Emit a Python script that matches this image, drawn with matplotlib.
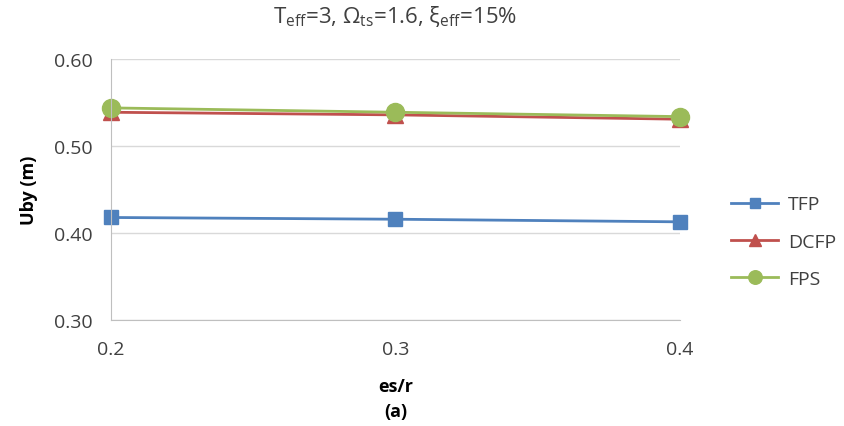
import matplotlib.pyplot as plt

# values
es_r = [0.2, 0.3, 0.4]
tfp = [0.418, 0.416, 0.413]
dcfp = [0.539, 0.536, 0.531]
fps = [0.544, 0.539, 0.534]

plt.rcParams['font.family'] = ['Open Sans', 'DejaVu Sans']
plt.rcParams['mathtext.fontset'] = 'custom'
plt.rcParams['mathtext.rm'] = 'Open Sans'

fig = plt.figure(figsize=(8.44, 4.27), dpi=100)
ax = fig.add_axes([0.1315, 0.248, 0.674, 0.611])

grey = '#BFBFBF'
ax.plot(es_r, tfp, color='#4F81BD', marker='s', markersize=10, lw=2, label='TFP')
ax.plot(es_r, dcfp, color='#C0504D', marker='^', markersize=11, lw=2, label='DCFP')
ax.plot(es_r, fps, color='#9BBB59', marker='o', markersize=13, lw=2, label='FPS')
for ln in ax.lines:
    ln.set_clip_on(False)

ax.set_xlim(0.2, 0.4)
ax.set_ylim(0.30, 0.60)
ax.set_xticks(es_r)
ax.set_xticklabels(['0.2', '0.3', '0.4'])
ax.set_yticks([0.30, 0.40, 0.50, 0.60])
ax.set_yticklabels(['0.30', '0.40', '0.50', '0.60'])
ax.yaxis.grid(True, color='#D9D9D9', lw=1)
ax.set_axisbelow(True)
for s in ['top', 'right']:
    ax.spines[s].set_visible(False)
for s in ['left', 'bottom']:
    ax.spines[s].set_color(grey)
ax.tick_params(axis='y', length=0, labelsize=14, colors='#404040', pad=13)
ax.tick_params(axis='x', length=0, labelsize=14, colors='#404040', pad=14)

ax.set_ylabel('Uby (m)', fontsize=13, fontweight='bold', labelpad=12)
ax.set_xlabel('es/r\n(a)', fontsize=13, fontweight='bold', labelpad=14, linespacing=1.5)
ax.set_title(r'T$_{\mathrm{eff}}$=3, Ω$_{\mathrm{ts}}$=1.6, ξ$_{\mathrm{eff}}$=15%',
             fontsize=16, color='#404040', pad=27)

ax.legend(loc='center left', bbox_to_anchor=(1.06, 0.30), frameon=False,
          fontsize=14, handlelength=2.4, handletextpad=0.5, labelspacing=1.0,
          labelcolor='#404040', markerscale=0.75)

fig.savefig('out.png', dpi=100)
